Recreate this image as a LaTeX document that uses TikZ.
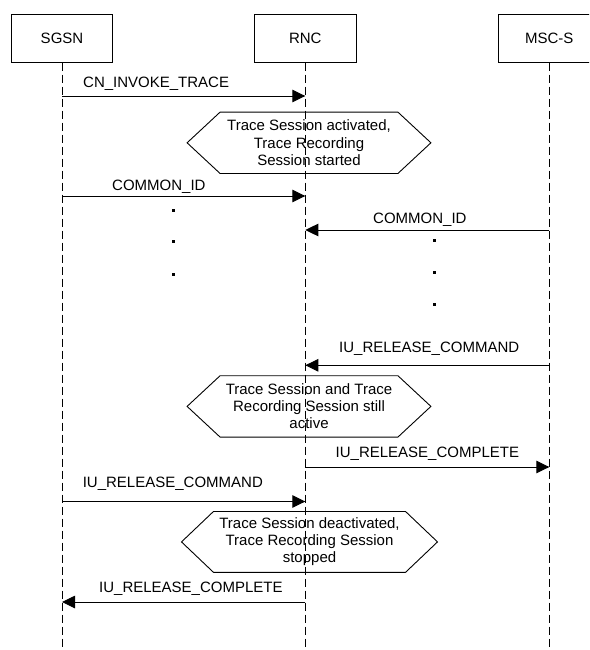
\documentclass[tikz,border=0pt]{standalone}
\usepackage{fontspec}
\setmainfont{Liberation Sans}
\usetikzlibrary{arrows.meta}
\newcommand\myhexoutline[2]{%
  \draw[hexline] (#1.west) -- ([xshift=#2]#1.north west) -- ([xshift=-#2]#1.north east)
    -- (#1.east) -- ([xshift=-#2]#1.south east) -- ([xshift=#2]#1.south west) -- cycle;}
\begin{document}
\begin{tikzpicture}[x=1pt,y=-1pt,
  every node/.style={font=\fontsize{15}{17.2}\selectfont},
  entity/.style={draw,line width=0.9pt,minimum width=101.5pt,minimum height=48pt,inner sep=0pt},
  life/.style={line width=1pt,dash pattern=on 8pt off 4pt},
  msg/.style={line width=0.9pt,-{Triangle[length=13pt,width=12.5pt]}},
  lbl/.style={anchor=base west,inner sep=0pt},
  hexnode/.style={inner sep=0pt,align=center,minimum height=61pt},
  hexline/.style={line width=0.9pt},
  dotm/.style={fill=black,inner sep=0pt,minimum size=3pt}]
\useasboundingbox (0,0) rectangle (589,650);
\clip (0,0) rectangle (589,650);

% entities
\node[entity] (sgsn) at (62,38.2) {SGSN};
\node[entity] (rnc) at (305.3,38.2) {RNC};
\node[entity] (msc) at (549.3,38.2) {MSC-S};

% lifelines
\coordinate (base) at (0,652);
\draw[life] (sgsn.south) -- (sgsn.south |- base);
\draw[life] (rnc.south) -- (rnc.south |- base);
\draw[life] (msc.south) -- (msc.south |- base);

% message levels
\coordinate (m1) at (0,96);
\coordinate (m2) at (0,196);
\coordinate (m3) at (0,230);
\coordinate (m4) at (0,365.3);
\coordinate (m5) at (0,467);
\coordinate (m6) at (0,501.5);
\coordinate (m7) at (0,602);

% messages
\draw[msg] (sgsn |- m1) -- (rnc |- m1);
\node[lbl] (l1) at (83,87.5) {CN\_INVOKE\_TRACE};

\node[hexnode,minimum width=243.4pt] (h1) at (309,142.8)
  {Trace Session activated,\\Trace Recording\\Session started};
\myhexoutline{h1}{33pt}

\draw[msg] (sgsn |- m2) -- (rnc |- m2);
\node[lbl] (l2) at (112,190) {COMMON\_ID};

\draw[msg] (msc |- m3) -- (rnc |- m3);
\node[lbl] (l3) at (373,223.2) {COMMON\_ID};

% continuation dots
\node[dotm] (dl1) at (173.3,210.7) {};
\node[dotm] (dl2) at (173.3,241.7) {};
\node[dotm] (dl3) at (173.3,274) {};
\node[dotm] (dr1) at (434,240.7) {};
\node[dotm] (dr2) at (434,272.3) {};
\node[dotm] (dr3) at (434,304) {};

\draw[msg] (msc |- m4) -- (rnc |- m4);
\node[lbl] (l4) at (339,352.2) {IU\_RELEASE\_COMMAND};

\node[hexnode,minimum width=243.4pt] (h2) at (309,406.4)
  {Trace Session and Trace\\Recording Session still\\active};
\myhexoutline{h2}{33pt}

\draw[msg] (rnc |- m5) -- (msc |- m5);
\node[lbl] (l5) at (335.5,457.2) {IU\_RELEASE\_COMPLETE};

\draw[msg] (sgsn |- m6) -- (rnc |- m6);
\node[lbl] (l6) at (82.6,487.2) {IU\_RELEASE\_COMMAND};

\node[hexnode,minimum width=255.6pt,minimum height=60.5pt] (h3) at (309.5,541.9)
  {Trace Session deactivated,\\Trace Recording Session\\stopped};
\myhexoutline{h3}{32pt}

\draw[msg] (rnc |- m7) -- (sgsn |- m7);
\node[lbl] (l7) at (99,592.2) {IU\_RELEASE\_COMPLETE};
\end{tikzpicture}
\end{document}
